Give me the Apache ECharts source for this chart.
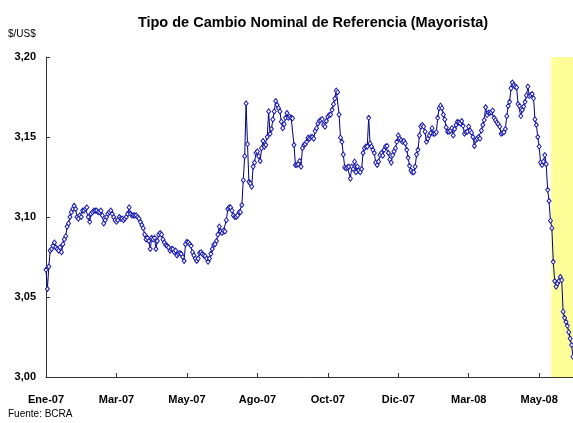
<!DOCTYPE html>
<html>
<head>
<meta charset="utf-8">
<script src="https://cdn.jsdelivr.net/npm/echarts@6/dist/echarts.min.js"></script>
<style>
html,body{margin:0;padding:0;background:#fff;}
#chart{width:573px;height:423px;}
</style>
</head>
<body>
<div id="chart"></div>
<script>
// Daily nominal reference exchange rate ($/US$), Jan-2007 .. Jun-2008
var rates = [
3.067,3.055,3.069,3.079,3.080,3.082,3.084,3.081,3.080,3.079,
3.081,3.078,3.083,3.086,3.088,3.094,3.096,3.100,3.103,3.105,
3.107,3.105,3.100,3.099,3.101,3.100,3.104,3.104,3.105,3.106,
3.100,3.097,3.102,3.103,3.104,3.104,3.104,3.103,3.103,3.104,
3.101,3.096,3.098,3.100,3.102,3.103,3.104,3.102,3.100,3.098,
3.097,3.098,3.100,3.099,3.099,3.098,3.099,3.100,3.102,3.106,
3.102,3.101,3.101,3.101,3.101,3.100,3.099,3.097,3.095,3.093,
3.089,3.086,3.087,3.085,3.080,3.087,3.086,3.087,3.080,3.085,
3.089,3.090,3.089,3.086,3.084,3.0825,3.082,3.081,3.079,3.080,
3.080,3.078,3.079,3.076,3.077,3.0775,3.077,3.075,3.0725,3.083,
3.0845,3.084,3.083,3.082,3.078,3.076,3.074,3.0725,3.074,3.0775,
3.078,3.077,3.076,3.0755,3.074,3.072,3.074,3.077,3.080,3.0825,
3.083,3.085,3.089,3.094,3.091,3.090,3.0915,3.091,3.098,3.105,
3.106,3.106,3.104,3.101,3.100,3.100,3.101,3.103,3.103,3.1075,
3.123,3.138,3.171,3.1456,3.122,3.121,3.119,3.1315,3.134,3.140,
3.141,3.138,3.135,3.143,3.1475,3.144,3.145,3.150,3.166,3.152,
3.155,3.161,3.166,3.1725,3.170,3.168,3.166,3.1596,3.1555,3.158,
3.162,3.165,3.162,3.1627,3.162,3.1617,3.145,3.1325,3.1325,3.133,
3.135,3.1315,3.143,3.145,3.1455,3.147,3.1496,3.149,3.150,3.150,
3.149,3.1537,3.1555,3.1585,3.160,3.1606,3.1612,3.1575,3.1565,3.160,
3.1627,3.1637,3.164,3.167,3.1705,3.174,3.179,3.178,3.164,3.1496,
3.147,3.139,3.131,3.1304,3.131,3.1315,3.124,3.1315,3.130,3.1346,
3.128,3.1315,3.129,3.128,3.130,3.140,3.143,3.144,3.144,3.162,
3.146,3.144,3.142,3.140,3.134,3.1325,3.1346,3.1387,3.140,3.1383,
3.142,3.144,3.1444,3.140,3.136,3.134,3.1387,3.141,3.143,3.147,
3.151,3.149,3.148,3.147,3.1475,3.146,3.142,3.137,3.132,3.129,
3.128,3.128,3.1315,3.139,3.142,3.151,3.1565,3.1575,3.1565,3.1533,
3.147,3.149,3.151,3.1525,3.1555,3.152,3.152,3.153,3.162,3.168,
3.1696,3.168,3.164,3.161,3.156,3.1533,3.1533,3.154,3.1555,3.151,
3.155,3.1575,3.1595,3.159,3.1585,3.160,3.157,3.152,3.153,3.1533,
3.1565,3.154,3.1527,3.150,3.1444,3.148,3.149,3.150,3.149,3.154,
3.1575,3.1606,3.1686,3.1637,3.1652,3.165,3.1655,3.1665,3.162,3.1605,
3.159,3.158,3.1565,3.152,3.1525,3.153,3.155,3.163,3.1694,3.172,
3.1804,3.184,3.1825,3.1815,3.181,3.1706,3.1694,3.1631,3.1669,3.169,
3.172,3.176,3.1815,3.1756,3.1762,3.1769,3.1742,3.161,3.1575,3.150,
3.144,3.134,3.1325,3.1346,3.1387,3.133,3.117,3.110,3.0977,3.093,
3.072,3.060,3.0565,3.0585,3.060,3.0625,3.0606,3.0408,3.037,3.0345,
3.032,3.028,3.024,3.020,3.0127
];
// Axis labels shown every 50 trading days
var tickLabels = ['Ene-07','Mar-07','May-07','Ago-07','Oct-07','Dic-07','Mar-08','May-08'];
var tickStep = 50;
// Highlighted (shaded) final period, in trading-day positions
var highlightFrom = 358.5;
var highlightTo = rates.length - 1;

var seriesData = rates.map(function (v, i) { return [i, v]; });

var chart = echarts.init(document.getElementById('chart'), null, {renderer: 'canvas'});
var FONT = '"Liberation Sans", Arial, sans-serif';
chart.setOption({
  animation: false,
  title: {
    text: 'Tipo de Cambio Nominal de Referencia (Mayorista)',
    left: 308, top: 10, textAlign: 'center',
    textStyle: {fontFamily: FONT, fontSize: 14.5, fontWeight: 'bold', color: '#000'}
  },
  grid: {left: 46, right: 0, top: 57, bottom: 46, containLabel: false},
  xAxis: {
    type: 'value', min: 0, max: rates.length - 1, interval: tickStep,
    splitLine: {show: false},
    axisLine: {lineStyle: {color: '#333', width: 1}},
    axisTick: {inside: true, length: 4, lineStyle: {color: '#333'}},
    axisLabel: {
      fontFamily: FONT, fontSize: 11, fontWeight: 'bold', color: '#000', margin: 17,
      showMaxLabel: false,
      formatter: function (v) { var k = v / tickStep; return (k % 1 === 0 && tickLabels[k]) ? tickLabels[k] : ''; }
    }
  },
  yAxis: {
    type: 'value', min: 3.00, max: 3.20, interval: 0.05,
    splitLine: {show: false},
    axisLine: {show: true, lineStyle: {color: '#333', width: 1}},
    axisTick: {show: true, inside: true, length: 4, lineStyle: {color: '#333'}},
    axisLabel: {
      fontFamily: FONT, fontSize: 11, fontWeight: 'bold', color: '#000', margin: 10,
      formatter: function (v) { return v.toFixed(2).replace('.', ','); }
    }
  },
  graphic: [
    {type: 'text', left: 8, top: 29, style: {text: '$/US$', font: '10px ' + FONT, fill: '#000'}},
    {type: 'text', left: 8, top: 409, style: {text: 'Fuente: BCRA', font: '10px ' + FONT, fill: '#000'}}
  ],
  series: [{
    type: 'line',
    data: seriesData,
    symbol: 'diamond',
    symbolSize: [4, 5],
    showAllSymbol: true,
    lineStyle: {color: '#000080', width: 1},
    itemStyle: {color: '#ffffff', borderColor: '#1c1cb0', borderWidth: 1},
    markArea: {
      silent: true,
      itemStyle: {color: '#FFFF99'},
      data: [[{xAxis: highlightFrom}, {xAxis: highlightTo}]]
    },
    z: 3
  }]
});
</script>
</body>
</html>
